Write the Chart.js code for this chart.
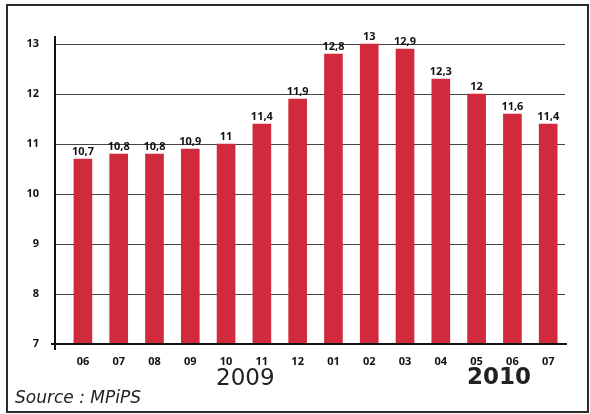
<!DOCTYPE html>
<html>
<head>
<meta charset="utf-8">
<script src="https://cdn.jsdelivr.net/npm/chart.js@4.4.1/dist/chart.umd.min.js"></script>
<style>
  html, body { margin: 0; padding: 0; background: #fff; }
  #wrap { position: relative; width: 590px; height: 414px; overflow: hidden; }
  #frame { position: absolute; left: 6px; top: 4px; width: 579px; height: 405px; border: 2px solid #2a2a2a; }
  #chart { position: absolute; left: 0; top: 0; }
  .txt { position: absolute; font-family: "DejaVu Sans", sans-serif; color: #222; white-space: nowrap; }
  #y2009 { left: 216px; top: 364px; font-size: 23px; }
  #y2010 { left: 467px; top: 363px; font-size: 23px; font-weight: bold; }
  #source { left: 15px; top: 387px; font-size: 17px; font-style: italic; }
</style>
</head>
<body>
<div id="wrap">
  <div id="frame"></div>
  <canvas id="chart" width="590" height="414"></canvas>
  <div class="txt" id="y2009">2009</div>
  <div class="txt" id="y2010">2010</div>
  <div class="txt" id="source">Source : MPiPS</div>
</div>
<script>
const months = ["06", "07", "08", "09", "10", "11", "12", "01", "02", "03", "04", "05", "06", "07"];
const values = [10.7, 10.8, 10.8, 10.9, 11, 11.4, 11.9, 12.8, 13, 12.9, 12.3, 12, 11.6, 11.4];
const yTicks = [7, 8, 9, 10, 11, 12, 13];

const barRed = "#d12a3c";
const tickFont = { family: "'Open Sans', sans-serif", size: 11, weight: "bold" };

const valueLabels = {
  id: "valueLabels",
  afterDatasetsDraw(chart) {
    const ctx = chart.ctx;
    const meta = chart.getDatasetMeta(0);
    ctx.save();
    ctx.font = "bold 11px 'Open Sans', sans-serif";
    ctx.fillStyle = "#111";
    ctx.textAlign = "center";
    ctx.textBaseline = "bottom";
    meta.data.forEach((bar, i) => {
      ctx.fillText(String(values[i]).replace(".", ","), bar.x, bar.y - 2);
    });
    ctx.restore();
  }
};

const axisLines = {
  id: "axisLines",
  afterDatasetsDraw(chart) {
    const ctx = chart.ctx;
    const a = chart.chartArea;
    ctx.save();
    ctx.strokeStyle = "#111";
    ctx.lineWidth = 2;
    ctx.beginPath();
    ctx.moveTo(a.left, a.top);
    ctx.lineTo(a.left, a.bottom + 6);
    ctx.moveTo(a.left - 4, a.bottom);
    ctx.lineTo(a.right + 2, a.bottom);
    ctx.stroke();
    ctx.restore();
  }
};

function createChart() {
  const ctx = document.getElementById("chart").getContext("2d");
  new Chart(ctx, {
    type: "bar",
    data: {
      datasets: [{
        data: values.map((v, i) => ({ x: i, y: v })),
        backgroundColor: barRed,
        barThickness: 18,
        base: 7
      }]
    },
    options: {
      responsive: false,
      animation: false,
      layout: { padding: { left: 0, top: 36, right: 25, bottom: 0 } },
      scales: {
        x: {
          type: "linear",
          offset: false,
          min: -0.78,
          max: 13.47,
          afterBuildTicks: s => { s.ticks = months.map((m, i) => ({ value: i })); },
          afterFit: s => { s.height = 70; },
          grid: { display: false },
          border: { display: false },
          ticks: {
            color: "#111",
            font: tickFont,
            padding: 3,
            autoSkip: false,
            maxRotation: 0,
            callback: (v, i) => months[i]
          }
        },
        y: {
          min: 7,
          max: 13.16,
          afterBuildTicks: s => { s.ticks = yTicks.map(v => ({ value: v })); },
          afterFit: s => { s.width = 55; },
          grid: { color: "#444", lineWidth: 1, drawTicks: false },
          border: { display: false },
          ticks: {
            color: "#111",
            font: tickFont,
            padding: 16,
            callback: v => v
          }
        }
      },
      plugins: {
        legend: { display: false },
        tooltip: { enabled: false }
      }
    },
    plugins: [valueLabels, axisLines]
  });
}

window.onload = createChart;
</script>
</body>
</html>
